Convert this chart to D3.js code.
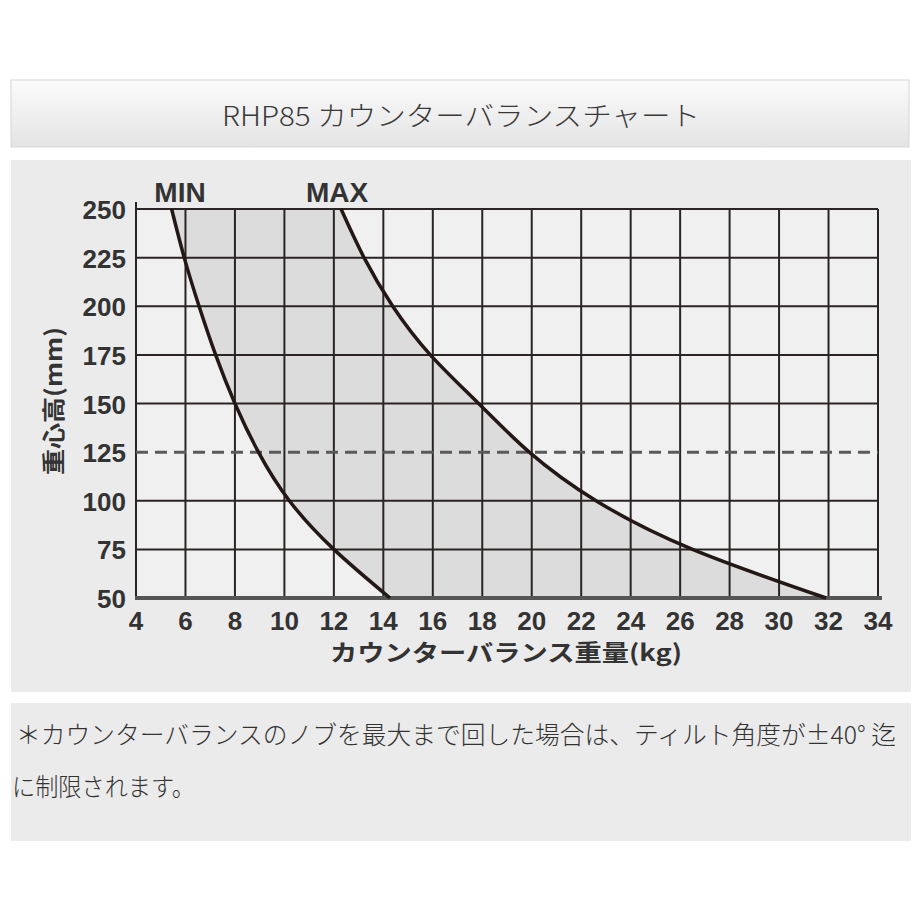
<!DOCTYPE html>
<html>
<head>
<meta charset="utf-8">
<script src="https://cdn.jsdelivr.net/npm/d3@7"></script>
<style>
  html, body { margin: 0; padding: 0; background: #ffffff; }
  svg { display: block; }
</style>
</head>
<body>
<div id="chart"></div>
<script>
// chart values
const titleText = "RHP85 カウンターバランスチャート";
const xTicks = [4, 6, 8, 10, 12, 14, 16, 18, 20, 22, 24, 26, 28, 30, 32, 34];
const yTicks = [50, 75, 100, 125, 150, 175, 200, 225, 250];
const minKg = [5.44, 5.95, 6.55, 7.22, 8.0, 8.95, 10.2, 12.0, 14.27];
const minMm = [250, 225, 200, 175, 150, 125, 100, 75, 50];
const maxKg = [12.29, 13.22, 14.38, 15.9, 17.85, 19.9, 22.6, 26.5, 31.9];
const maxMm = [250, 225, 200, 175, 150, 125, 100, 75, 50];
const refLine = 125;
const xTitle = "カウンターバランス重量(kg)";
const yTitle = "重心高(mm)";
const noteLines = ["＊カウンターバランスのノブを最大まで回した場合は、ティルト角度が±40° 迄", "に制限されます。"];

const W = 920, H = 920;
const svg = d3.select("#chart").append("svg").attr("width", W).attr("height", H);

const defs = svg.append("defs");
const grad = defs.append("linearGradient").attr("id", "hdr").attr("x1", 0).attr("y1", 0).attr("x2", 0).attr("y2", 1);
grad.append("stop").attr("offset", "0%").attr("stop-color", "#fbfbfb");
grad.append("stop").attr("offset", "100%").attr("stop-color", "#e4e4e4");

// header box
svg.append("rect").attr("x", 11).attr("y", 80).attr("width", 898).attr("height", 67)
    .attr("fill", "url(#hdr)").attr("stroke", "#d6d6d6");
svg.append("text").attr("x", 461).attr("y", 126)
    .attr("text-anchor", "middle")
    .attr("font-family", "'Noto Sans CJK JP', 'Noto Sans', sans-serif")
    .attr("font-weight", 300)
    .attr("font-size", 27)
    .attr("fill", "#3a3a3a")
    .attr("textLength", 478).attr("lengthAdjust", "spacingAndGlyphs")
    .text(titleText);

// panels
svg.append("rect").attr("x", 11).attr("y", 160).attr("width", 900).attr("height", 532).attr("fill", "#ebebeb");
svg.append("rect").attr("x", 11).attr("y", 703).attr("width", 900).attr("height", 138).attr("fill", "#ebebeb");

// scales
const x = d3.scaleLinear().domain([4, 34]).range([136, 878]);
const y = d3.scaleLinear().domain([50, 250]).range([598, 209]);

const g = svg.append("g");

g.append("rect").attr("x", x(4)).attr("y", y(250))
    .attr("width", x(34) - x(4)).attr("height", y(50) - y(250))
    .attr("fill", "#f0f0f0");

// shaded band between MIN and MAX
const minPts = minKg.map((k, i) => [k, minMm[i]]);
const maxPts = maxKg.map((k, i) => [k, maxMm[i]]);
const curve = d3.line().x(d => x(d[0])).y(d => y(d[1])).curve(d3.curveNatural);
const bandPath = curve(minPts) + "L" + curve(maxPts.slice().reverse()).slice(1) + "Z";
g.append("path").attr("d", bandPath).attr("fill", "#dcdcdc");

// grid
g.selectAll(".vgrid").data(xTicks).join("line")
    .attr("x1", d => x(d)).attr("x2", d => x(d))
    .attr("y1", d => d === 4 ? y(250) - 7 : y(250)).attr("y2", y(50))
    .attr("stroke", "#2b2424").attr("stroke-width", 2);
g.selectAll(".hgrid").data(yTicks.filter(v => v !== refLine && v !== 50)).join("line")
    .attr("x1", x(4)).attr("x2", x(34))
    .attr("y1", d => y(d)).attr("y2", d => y(d))
    .attr("stroke", "#2b2424").attr("stroke-width", 2);

// reference dashed line
g.append("line")
    .attr("x1", x(4)).attr("x2", x(34)).attr("y1", y(refLine)).attr("y2", y(refLine))
    .attr("stroke", "#5a5a5a").attr("stroke-width", 3)
    .attr("stroke-dasharray", "12,7");

// bottom axis line
g.append("line")
    .attr("x1", x(4) - 1).attr("x2", x(34) + 4).attr("y1", y(50)).attr("y2", y(50))
    .attr("stroke", "#555").attr("stroke-width", 4);

// curves
[minPts, maxPts].forEach(pts => {
    g.append("path").attr("d", curve(pts))
        .attr("fill", "none").attr("stroke", "#231815").attr("stroke-width", 3.5);
});

const font = "'Liberation Sans', Arial, sans-serif";
// tick labels
g.selectAll(".ylab").data(yTicks).join("text")
    .attr("x", 126).attr("y", d => y(d) + 10)
    .attr("text-anchor", "end")
    .attr("font-family", font).attr("font-weight", "bold").attr("font-size", 26)
    .attr("fill", "#333").text(d => d);
g.selectAll(".xlab").data(xTicks).join("text")
    .attr("x", d => x(d)).attr("y", 630)
    .attr("text-anchor", "middle")
    .attr("font-family", font).attr("font-weight", "bold").attr("font-size", 26)
    .attr("fill", "#333").text(d => d);

// curve labels
g.append("text").attr("x", 180).attr("y", 202).attr("text-anchor", "middle")
    .attr("font-family", font).attr("font-weight", "bold").attr("font-size", 28)
    .attr("fill", "#333").text("MIN");
g.append("text").attr("x", 337).attr("y", 202).attr("text-anchor", "middle")
    .attr("font-family", font).attr("font-weight", "bold").attr("font-size", 28)
    .attr("fill", "#333").text("MAX");

// axis titles
g.append("text").attr("x", 506).attr("y", 661).attr("text-anchor", "middle")
    .attr("font-family", "'Noto Sans CJK JP', sans-serif").attr("font-weight", "bold").attr("font-size", 23)
    .attr("fill", "#333").attr("textLength", 352).attr("lengthAdjust", "spacingAndGlyphs")
    .text(xTitle);
g.append("text").attr("transform", "translate(62,401) rotate(-90)").attr("text-anchor", "middle")
    .attr("font-family", "'Noto Sans CJK JP', sans-serif").attr("font-weight", "bold").attr("font-size", 23)
    .attr("fill", "#333").attr("textLength", 148).attr("lengthAdjust", "spacingAndGlyphs")
    .text(yTitle);

// footnote
svg.append("text").attr("x", 16).attr("y", 744)
    .attr("font-family", "'Noto Sans CJK JP', sans-serif").attr("font-weight", 300).attr("font-size", 25)
    .attr("fill", "#333").attr("textLength", 880).attr("lengthAdjust", "spacingAndGlyphs")
    .text(noteLines[0]);
svg.append("text").attr("x", 12).attr("y", 796)
    .attr("font-family", "'Noto Sans CJK JP', sans-serif").attr("font-weight", 300).attr("font-size", 25)
    .attr("fill", "#333").attr("textLength", 183).attr("lengthAdjust", "spacingAndGlyphs")
    .text(noteLines[1]);
</script>
</body>
</html>
